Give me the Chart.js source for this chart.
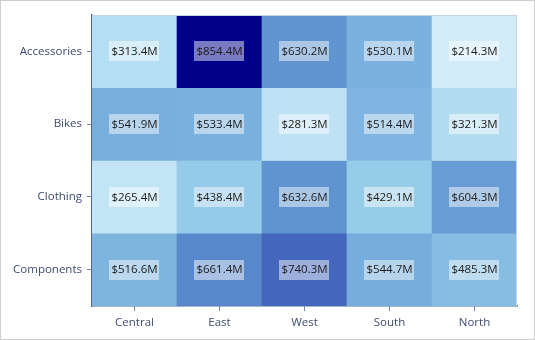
<!DOCTYPE html>
<html>
<head>
<meta charset="utf-8">
<script src="https://cdn.jsdelivr.net/npm/chart.js@4"></script>
<style>
  html, body { margin: 0; padding: 0; background: #fff; }
  #wrap { width: 535px; height: 340px; box-sizing: border-box; border: 1px solid #cfcfcf; position: relative; }
  #chart { display: block; }
</style>
</head>
<body>
<div id="wrap"><canvas id="chart" width="533" height="338"></canvas></div>
<script>
const regions = ['Central', 'East', 'West', 'South', 'North'];
const categories = ['Accessories', 'Bikes', 'Clothing', 'Components'];
// sales in $M, one array per category, in region order
const accessories = [313.4, 854.4, 630.2, 530.1, 214.3];
const bikes = [541.9, 533.4, 281.3, 514.4, 321.3];
const clothing = [265.4, 438.4, 632.6, 429.1, 604.3];
const components = [516.6, 661.4, 740.3, 544.7, 485.3];
const rows = [accessories, bikes, clothing, components];

// colour ramp (value -> rgb)
const stops = [
    [214, [210, 236, 249]], [320, [178, 221, 241]], [430, [151, 204, 233]],
    [530, [122, 177, 222]], [630, [96, 149, 208]], [740, [68, 102, 189]], [854, [0, 0, 139]]
];
function cellColor(v) {
    for (let i = 1; i < stops.length; i++) {
        if (v <= stops[i][0] || i === stops.length - 1) {
            const [a, ca] = stops[i - 1], [b, cb] = stops[i];
            const t = Math.max(0, Math.min(1, (v - a) / (b - a)));
            const c = ca.map((x, k) => Math.round(x + (cb[k] - x) * t));
            return `rgb(${c[0]},${c[1]},${c[2]})`;
        }
    }
}

const FONT = '"Open Sans", "Segoe UI", sans-serif';

const cellLabels = {
    id: 'cellLabels',
    afterDatasetsDraw(chart) {
        const ctx = chart.ctx;
        const area = chart.chartArea;
        ctx.save();
        // light top / right frame
        ctx.strokeStyle = '#c9d5e8';
        ctx.lineWidth = 1;
        ctx.beginPath();
        ctx.moveTo(area.left, area.top + 0.5);
        ctx.lineTo(area.right - 0.5, area.top + 0.5);
        ctx.lineTo(area.right - 0.5, area.bottom);
        ctx.stroke();

        ctx.font = '11.5px ' + FONT;
        ctx.textAlign = 'center';
        ctx.textBaseline = 'middle';
        chart.data.datasets.forEach((ds, di) => {
            chart.getDatasetMeta(di).data.forEach((bar, i) => {
                const txt = '$' + rows[di][i].toFixed(1) + 'M';
                const cx = bar.x;
                const cy = (bar.y + bar.base) / 2;
                const w = ctx.measureText(txt).width + 4;
                const h = 20;
                ctx.fillStyle = 'rgba(255,255,255,0.48)';
                ctx.fillRect(Math.round(cx - w / 2), Math.round(cy - h / 2), Math.round(w), h);
                ctx.fillStyle = '#1a1a1a';
                ctx.fillText(txt, cx, cy + 0.5);
            });
        });
        ctx.restore();
    }
};

new Chart(document.getElementById('chart'), {
    type: 'bar',
    data: {
        labels: regions,
        datasets: rows.map((vals, r) => ({
            label: categories[r],
            data: vals.map(() => [r, r + 1]),
            backgroundColor: vals.map(cellColor),
            borderWidth: 0,
            borderSkipped: false,
            barPercentage: 1,
            categoryPercentage: 1,
            grouped: false
        }))
    },
    options: {
        responsive: false,
        animation: false,
        layout: { padding: { top: 14, right: 17, bottom: 0, left: 0 } },
        plugins: { legend: { display: false }, tooltip: { enabled: false } },
        scales: {
            x: {
                type: 'category',
                offset: true,
                grid: { drawOnChartArea: false, drawTicks: true, tickLength: 5, color: '#6f84ad', offset: false },
                border: { display: true, color: '#4f6898', width: 1.5 },
                ticks: { color: '#3d4c6e', font: { family: FONT, size: 11.5 }, padding: 5 },
                afterFit: (s) => { s.height = 33; }
            },
            y: {
                type: 'linear',
                min: 0, max: 4, reverse: true,
                afterBuildTicks: (s) => { s.ticks = categories.map((_, i) => ({ value: i + 0.5 })); },
                grid: { drawOnChartArea: false, drawTicks: true, tickLength: 5, color: '#6f84ad' },
                border: { display: true, color: '#4f6898', width: 1.5 },
                ticks: {
                    color: '#3d4c6e', font: { family: FONT, size: 11.5 }, padding: 5,
                    callback: (v) => categories[Math.floor(v)]
                },
                afterFit: (s) => { s.width = 91; }
            }
        }
    },
    plugins: [cellLabels]
});
</script>
</body>
</html>
